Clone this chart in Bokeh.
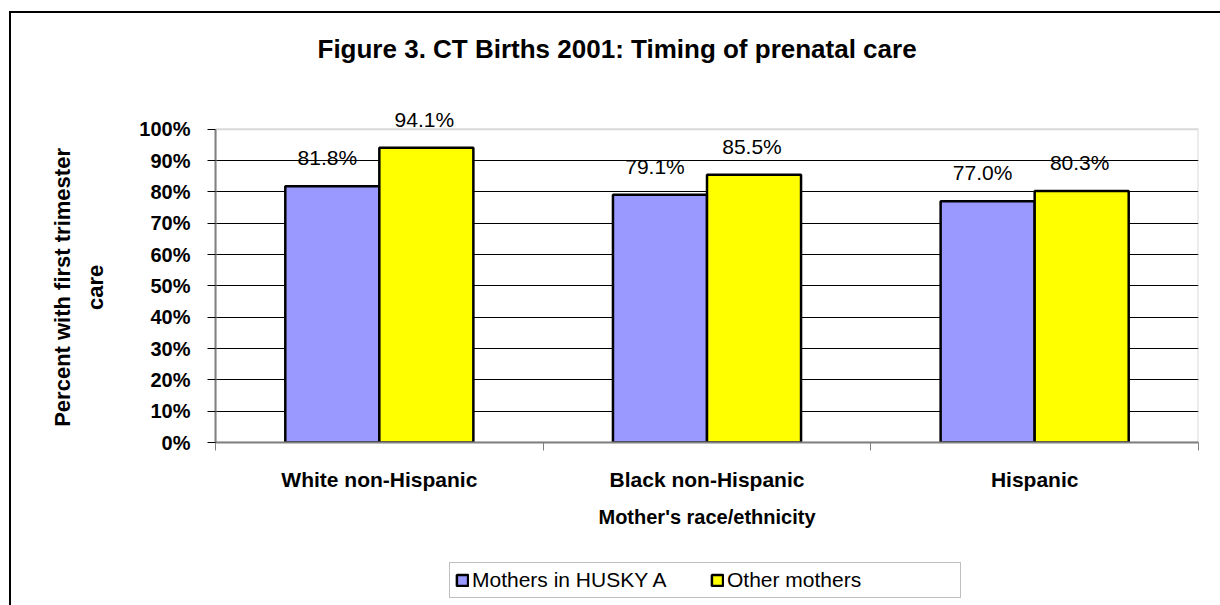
import math
from bokeh.plotting import figure
from bokeh.layouts import column, row
from bokeh.models import (Range1d, FixedTicker, ColumnDataSource, LabelSet, Legend, LegendItem,
                          PrintfTickFormatter, BoxAnnotation, Label)
from bokeh.core.properties import value
from bokeh.embed import file_html
from bokeh.resources import INLINE

categories = ["White non-Hispanic", "Black non-Hispanic", "Hispanic"]
husky = [81.8, 79.1, 77.0]
other = [94.1, 85.5, 80.3]
series_names = ["Mothers in HUSKY A", "Other mothers"]
y_ticks = [0, 10, 20, 30, 40, 50, 60, 70, 80, 90, 100]
y_label_lines = ["Percent with first trimester", "care"]

FONT = "Liberation Sans"
BLUE = "#9999FF"
YELLOW = "#FFFF00"
GRAY = "#808080"

centers = [i + 0.5 for i in range(len(categories))]
bw = 0.287
off = 0.1435
Y_TOP = 114.92
STRIP_W = 110

src_h = ColumnDataSource(dict(x=[c - off for c in centers], top=husky,
                              lab=[f"{v:.1f}%" for v in husky]))
src_o = ColumnDataSource(dict(x=[c + off for c in centers], top=other,
                              lab=[f"{v:.1f}%" for v in other]))

# ---- main chart ----
p = figure(width=1209 - STRIP_W, height=535, output_backend="svg", toolbar_location=None,
           x_range=Range1d(0, len(categories)), y_range=Range1d(0, Y_TOP),
           min_border_left=94, min_border_right=22, min_border_top=67, min_border_bottom=106)
p.background_fill_color = "white"
p.border_fill_color = "white"
p.outline_line_color = None

p.title.text = "Figure 3.  CT Births 2001: Timing of prenatal care"
p.title.text_font = FONT
p.title.text_font_size = "26px"
p.title.text_font_style = "bold"
p.title.text_color = "black"
p.title.align = "left"
p.title.offset = 102
p.title.standoff = 37

p.add_layout(BoxAnnotation(left=0, right=len(categories), bottom=0, top=100,
                           fill_color=None, fill_alpha=0, line_color=GRAY, line_width=2,
                           level="underlay"))

r1 = p.vbar(x="x", top="top", width=bw, bottom=0, source=src_h, fill_color=BLUE,
            line_color="black", line_width=2.5)
r2 = p.vbar(x="x", top="top", width=bw, bottom=0, source=src_o, fill_color=YELLOW,
            line_color="black", line_width=2.5)

for src, xo in ((src_h, -5), (src_o, -2)):
    p.add_layout(LabelSet(x="x", y="top", text="lab", source=src, x_offset=xo, y_offset=21,
                          text_align="center", text_baseline="alphabetic",
                          text_font=value(FONT), text_font_size="21px", text_color="black"))

yax = p.yaxis[0]
yax.bounds = (0, 100)
yax.ticker = FixedTicker(ticks=y_ticks)
yax.formatter = PrintfTickFormatter(format="%d%%")
yax.axis_line_color = GRAY
yax.axis_line_width = 2
yax.major_tick_line_color = "black"
yax.major_tick_out = 8
yax.major_tick_in = 0
yax.minor_tick_line_color = None
yax.major_label_text_font = FONT
yax.major_label_text_font_size = "20px"
yax.major_label_text_font_style = "bold"
yax.major_label_text_color = "black"
yax.major_label_standoff = 17

xax = p.xaxis[0]
xax.ticker = FixedTicker(ticks=centers, minor_ticks=list(range(len(categories) + 1)))
xax.major_label_overrides = {c: name for c, name in zip(centers, categories)}
xax.axis_line_color = GRAY
xax.axis_line_width = 2
xax.major_tick_line_color = None
xax.major_tick_out = 0
xax.major_tick_in = 0
xax.minor_tick_line_color = GRAY
xax.minor_tick_out = 8
xax.minor_tick_in = 0
xax.major_label_text_font = FONT
xax.major_label_text_font_size = "21px"
xax.major_label_text_font_style = "bold"
xax.major_label_text_color = "black"
xax.major_label_standoff = 17
xax.axis_label = "Mother's race/ethnicity"
xax.axis_label_text_font = FONT
xax.axis_label_text_font_size = "20px"
xax.axis_label_text_font_style = "bold"
xax.axis_label_text_color = "black"
xax.axis_label_standoff = 12

p.xgrid.grid_line_color = None
p.ygrid.ticker = FixedTicker(ticks=y_ticks[1:-1])
p.ygrid.grid_line_color = "black"
p.ygrid.grid_line_width = 1

# ---- y-axis title strip (left) ----
ps = figure(width=STRIP_W, height=535, output_backend="svg", toolbar_location=None,
            x_range=Range1d(0, STRIP_W), y_range=Range1d(0, Y_TOP),
            x_axis_location=None, y_axis_location=None,
            min_border_left=0, min_border_right=0, min_border_top=67, min_border_bottom=106)
ps.outline_line_color = None
ps.grid.grid_line_color = None
ps.background_fill_color = "white"
ps.border_fill_color = "white"
for txt, xpos in zip(y_label_lines, (51, 84)):
    ps.add_layout(Label(x=xpos, y=49.5, text=txt, angle=math.pi / 2,
                        text_align="center", text_baseline="middle",
                        text_font=FONT, text_font_size="22px",
                        text_font_style="bold", text_color="black"))

# ---- legend strip (bottom) ----
pl = figure(width=1209, height=57, output_backend="svg", toolbar_location=None,
            x_range=Range1d(-10, -9), y_range=Range1d(0, 1),
            x_axis_location=None, y_axis_location=None,
            min_border_left=204, min_border_right=22, min_border_top=0, min_border_bottom=0)
pl.outline_line_color = None
pl.grid.grid_line_color = None
pl.background_fill_color = "white"
pl.border_fill_color = "white"
g1 = pl.vbar(x="x", top="top", width=bw, source=src_h, fill_color=BLUE,
             line_color="black", line_width=2.5, visible=False)
g2 = pl.vbar(x="x", top="top", width=bw, source=src_o, fill_color=YELLOW,
             line_color="black", line_width=2.5, visible=False)

legend = Legend(items=[LegendItem(label=series_names[0], renderers=[g1]),
                       LegendItem(label=series_names[1], renderers=[g2])],
                location=(234, 7), orientation="horizontal")
legend.label_text_font = FONT
legend.label_text_font_size = "21px"
legend.label_text_color = "black"
legend.glyph_width = 14
legend.glyph_height = 14
legend.label_standoff = 3
legend.label_width = 228
legend.spacing = 10
legend.padding = 5
legend.margin = 0
legend.label_height = 20
legend.border_line_color = GRAY
legend.border_line_width = 1
legend.background_fill_color = "white"
legend.background_fill_alpha = 1
pl.add_layout(legend, "center")

layout = column(row(ps, p, spacing=0), pl, spacing=0)
layout.styles = {"border-left": "2px solid black", "border-top": "2px solid black",
                 "margin-left": "9px", "margin-top": "11px"}

open("out.html", "w").write(file_html(layout, INLINE))
